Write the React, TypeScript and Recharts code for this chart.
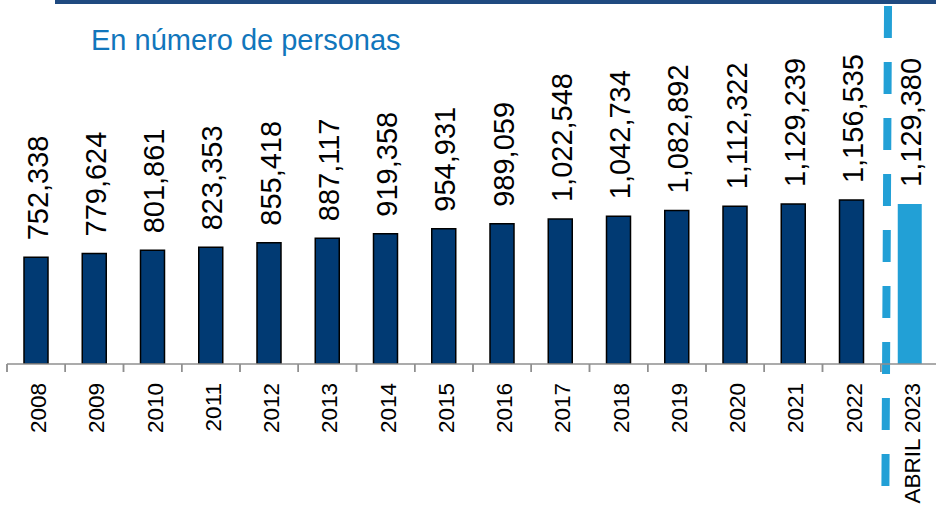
import React from 'react';
import { BarChart, Bar, XAxis, YAxis, Cell, LabelList, ReferenceLine } from 'recharts';

const years = ['2008', '2009', '2010', '2011', '2012', '2013', '2014', '2015', '2016', '2017', '2018', '2019', '2020', '2021', '2022', 'ABRIL 2023'];
const persons = [752338, 779624, 801861, 823353, 855418, 887117, 919358, 954931, 989059, 1022548, 1042734, 1082892, 1112322, 1129239, 1156535, 1129380];
const highlight = ['ABRIL 2023'];
const title = 'En número de personas';

const data = years.map((year, i) => ({ year, value: persons[i], pos: i + 0.5 }));
const boundaries = years.map((_, i) => i).concat([years.length]);

const NAVY = '#013A73';
const LIGHT = '#22A0D6';
const FONT = '"Liberation Sans", Arial, sans-serif';

const fmt = (v: number) => Number(v).toLocaleString('en-US');

const ValueLabel = (props: any) => {
  const x = Number(props.x);
  const y = Number(props.y);
  const w = Number(props.width);
  const cx = x + w / 2;
  return (
    <text
      transform={`translate(${cx + 11.5},${y - 17}) rotate(-90)`}
      textAnchor="start"
      fontSize={29}
      fontFamily={FONT}
      fill="#000"
    >
      {fmt(props.value)}
    </text>
  );
};

const YearTick = (props: any) => {
  const { x, y, payload } = props;
  return (
    <text
      transform={`translate(${Number(x) + 10},${Number(y) + 18}) rotate(-90)`}
      textAnchor="end"
      fontSize={22.5}
      fontFamily={FONT}
      fill="#000"
    >
      {payload.value}
    </text>
  );
};

const BoundaryTick = (props: any) => {
  const x = Number(props.x);
  const y = Number(props.y);
  return <line x1={x} x2={x} y1={y - 8} y2={y} stroke="#8F8F8F" strokeWidth={1.5} />;
};

export default function App() {
  return (
    <div style={{ position: 'absolute', left: 0, top: 0, width: 936, height: 506, overflow: 'hidden', background: '#fff' }}>
      <div style={{ position: 'absolute', left: 55, top: 0, width: 881, height: 4, background: '#1F4A80' }} />
      <div
        style={{
          position: 'absolute',
          left: 91,
          top: 26,
          fontFamily: FONT,
          fontSize: 29,
          lineHeight: 1,
          color: '#1176BC',
          whiteSpace: 'nowrap',
        }}
      >
        {title}
      </div>
      <div style={{ position: 'absolute', left: 0, top: 0 }}>
        <BarChart width={945} height={506} data={data} margin={{ top: 80.5, right: 6, bottom: 0, left: 7 }}>
          <XAxis
            xAxisId="b_cat"
            dataKey="year"
            type="category"
            axisLine={false}
            tickLine={false}
            tickSize={0}
            tickMargin={0}
            interval={0}
            height={141}
            tick={<YearTick />}
          />
          <XAxis
            xAxisId="a_num"
            dataKey="pos"
            type="number"
            domain={[0, 16]}
            ticks={boundaries}
            interval={0}
            tick={<BoundaryTick />}
            tickSize={8}
            tickMargin={0}
            height={1}
            axisLine={{ stroke: '#8F8F8F', strokeWidth: 1.5 }}
            tickLine={{ stroke: '#8F8F8F', strokeWidth: 1.5 }}
          />
          <YAxis yAxisId="y" hide domain={[0, 2000000]} allowDataOverflow />
          <Bar dataKey="value" xAxisId="b_cat" yAxisId="y" barSize={24} isAnimationActive={false}>
            {data.map((d) => (
              <Cell
                key={d.year}
                fill={highlight.includes(d.year) ? LIGHT : NAVY}
                stroke={highlight.includes(d.year) ? 'none' : '#000'}
                strokeWidth={1.5}
              />
            ))}
            <LabelList dataKey="value" content={<ValueLabel />} />
          </Bar>
          <ReferenceLine
            xAxisId="a_num"
            yAxisId="y"
            ifOverflow="visible"
            segment={[
              { x: 15.125, y: 2525573 },
              { x: 15.08, y: -867725 },
            ]}
            stroke={LIGHT}
            strokeWidth={8}
            strokeDasharray="32 24"
          />
        </BarChart>
      </div>
    </div>
  );
}
